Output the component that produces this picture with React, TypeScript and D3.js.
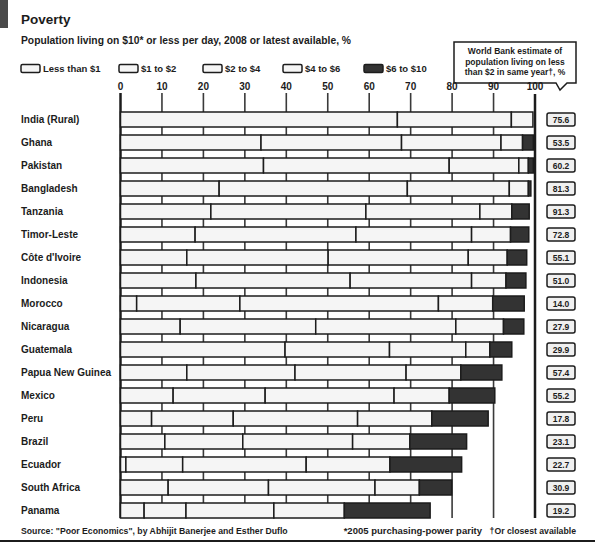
import React from "react";
import * as d3 from "d3";

const countries = [
  "India (Rural)", "Ghana", "Pakistan", "Bangladesh", "Tanzania", "Timor-Leste",
  "Côte d'Ivoire", "Indonesia", "Morocco", "Nicaragua", "Guatemala",
  "Papua New Guinea", "Mexico", "Peru", "Brazil", "Ecuador", "South Africa", "Panama",
];
const keys = ["lt1", "d1to2", "d2to4", "d4to6", "d6to10"];
const legendLabels = ["Less than $1", "$1 to $2", "$2 to $4", "$4 to $6", "$6 to $10"];
const lessThan1 = [66.8, 33.9, 34.5, 23.8, 21.8, 18.0, 16.0, 18.2, 3.9, 14.4, 39.7, 16.0, 12.7, 7.5, 10.7, 1.3, 11.5, 5.7];
const from1to2 = [27.5, 33.9, 44.8, 45.4, 37.4, 38.8, 34.1, 37.2, 24.9, 32.7, 25.2, 26.1, 22.2, 19.7, 18.8, 13.7, 24.2, 10.1];
const from2to4 = [5.2, 24.0, 16.8, 24.6, 27.5, 27.9, 33.8, 29.3, 47.9, 33.8, 18.4, 26.8, 31.1, 30.0, 26.5, 29.8, 25.7, 21.2];
const from4to6 = [0, 5.2, 2.3, 4.6, 7.7, 9.4, 9.4, 8.3, 13.1, 11.5, 5.8, 13.2, 13.3, 17.9, 13.8, 20.2, 10.7, 17.0];
const from6to10 = [0, 2.6, 1.2, 0.6, 4.2, 4.4, 4.7, 4.8, 7.6, 4.9, 5.3, 9.9, 11.0, 13.6, 13.7, 17.3, 7.8, 20.7];
const worldBankUnder2 = ["75.6", "53.5", "60.2", "81.3", "91.3", "72.8", "55.1", "51.0", "14.0", "27.9", "29.9", "57.4", "55.2", "17.8", "23.1", "22.7", "30.9", "19.2"];
const tickValues = [0, 10, 20, 30, 40, 50, 60, 70, 80, 90, 100];

const FONT = "'Liberation Sans', Arial, sans-serif";
const LIGHT = "#f5f5f5";
const DARK = "#333333";
const INK = "#1c1c1c";

export default function App() {
  const x = d3.scaleLinear().domain([0, 100]).range([120.5, 535]);
  const y = d3.scalePoint<string>().domain(countries).range([119.5, 119.5 + 23 * 17]);
  const barH = 15;
  const rows = countries.map((c, i) => ({
    country: c,
    lt1: lessThan1[i],
    d1to2: from1to2[i],
    d2to4: from2to4[i],
    d4to6: from4to6[i],
    d6to10: from6to10[i],
  }));
  const series = d3.stack<any>().keys(keys)(rows);
  const gridBottom = 518;
  const legendX = [21, 119, 203, 283, 364];

  return (
    <svg width={595} height={550} style={{ position: "absolute", left: 0, top: 0, background: "#fff" }} fontFamily={FONT}>
      <rect x={0} y={0} width={595} height={550} fill="#fff" />
      <rect x={0} y={0} width={8} height={28} fill="#4a4a4a" />
      <text x={21} y={24} fontSize={13.5} fontWeight="bold" fill={INK}>Poverty</text>
      <text x={21} y={44} fontSize={10.3} fontWeight="bold" fill={INK}>
        Population living on $10* or less per day, 2008 or latest available, %
      </text>

      {legendLabels.map((l, i) => (
        <g key={l}>
          <rect x={legendX[i]} y={64.5} width={19} height={8} rx={1.5}
            fill={i === 4 ? DARK : LIGHT} stroke={INK} strokeWidth={1.5} />
          <text x={legendX[i] + 22} y={72} fontSize={9.5} fontWeight="bold" fill={INK}>{l}</text>
        </g>
      ))}

      {/* callout */}
      <path d="M454,42 H576 V83 H567 L560,90 L556,83 H454 Z" fill="#fff" stroke={INK} strokeWidth={1.5} />
      {["World Bank estimate of", "population living on less", "than $2 in same year\u2020, %"].map((t, i) => (
        <text key={t} x={515} y={54 + i * 10.5} fontSize={8.5} fontWeight="bold" textAnchor="middle" fill={INK}>{t}</text>
      ))}

      {/* ticks and grid */}
      {tickValues.map((t) => (
        <g key={t}>
          <text x={x(t)} y={90} fontSize={10} fontWeight="bold" textAnchor="middle" fill={INK}>{t}</text>
          {t > 0 && t < 100 && (
            <line x1={x(t)} x2={x(t)} y1={93} y2={gridBottom} stroke="#3a3a3a" strokeWidth={1.6} />
          )}
        </g>
      ))}
      <line x1={x(100)} x2={x(100)} y1={94} y2={gridBottom} stroke={INK} strokeWidth={2.5} />
      <line x1={x(0)} x2={x(0)} y1={93} y2={gridBottom} stroke={INK} strokeWidth={2.5} />

      {/* bars */}
      {series.map((s, si) => (
        <g key={s.key}>
          {s.map((d: any, di: number) =>
            d[1] - d[0] > 0 ? (
              <rect key={di} x={x(d[0])} y={(y(countries[di]) as number) - barH / 2}
                width={x(d[1]) - x(d[0])} height={barH}
                fill={si === 4 ? DARK : LIGHT} stroke={INK} strokeWidth={1.5} />
            ) : null
          )}
        </g>
      ))}

      {/* country labels */}
      {countries.map((c) => (
        <text key={c} x={21} y={(y(c) as number) + 3.5} fontSize={10} fontWeight="bold" fill={INK}>{c}</text>
      ))}

      {/* world bank value boxes */}
      {countries.map((c, i) => (
        <g key={c}>
          <rect x={547} y={(y(c) as number) - 6.5} width={28} height={13} rx={2}
            fill="#f0f0f0" stroke={INK} strokeWidth={1.5} />
          <text x={561} y={(y(c) as number) + 3} fontSize={8.5} fontWeight="bold" textAnchor="middle" fill={INK}>
            {worldBankUnder2[i]}
          </text>
        </g>
      ))}

      {/* footer */}
      <text x={21} y={534} fontSize={8.7} fontWeight="bold" fill={INK}>
        Source: "Poor Economics", by Abhijit Banerjee and Esther Duflo
      </text>
      <text x={482} y={534} fontSize={9.5} fontWeight="bold" textAnchor="end" fill={INK}>
        *2005 purchasing-power parity
      </text>
      <text x={576} y={534} fontSize={8.7} fontWeight="bold" textAnchor="end" fill={INK}>
        {"\u2020Or closest available"}
      </text>
      <line x1={0} x2={595} y1={541} y2={541} stroke={INK} strokeWidth={2} />
    </svg>
  );
}
